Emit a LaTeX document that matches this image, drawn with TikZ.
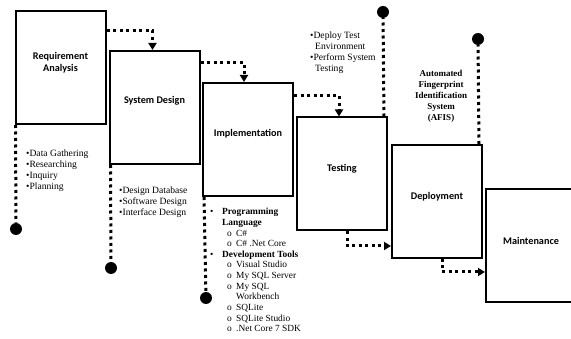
\documentclass[tikz,border=0pt]{standalone}
\usepackage{fontspec}
\setmainfont{Liberation Serif}
\newfontfamily\boxfont{Carlito}
\usetikzlibrary{arrows.meta,calc}
\begin{document}
\begin{tikzpicture}[x=1pt,y=-1pt,
  box/.style={draw=black,line width=2pt,minimum width=90pt,minimum height=113pt,inner sep=0pt},
  blabel/.style={font=\boxfont\bfseries\fontsize{10.2}{12}\selectfont,align=center,inner sep=0pt},
  dotline/.style={line width=3pt,dash pattern=on 3pt off 3.5pt},
  flow/.style={dotline,-{Triangle[width=8pt,length=7pt]}},
  dot/.style={circle,fill=black,minimum size=12pt,inner sep=0pt},
  lst/.style={font=\fontsize{9.6}{11}\selectfont,align=left,inner sep=0pt,anchor=north west},
]
\useasboundingbox (0,0) rectangle (571,339);
\clip (0,0) rectangle (571,339);
% boxes
\node[box] (ra) at (60.5,67.5) {};
\node[box] (sd) at (154.5,107.5) {};
\node[box] (im) at (248,139.5) {};
\node[box] (te) at (342,174) {};
\node[box] (dp) at (437,201.5) {};
\node[box] (mt) at (531,245.5) {};
% labels
\node[blabel] (ral) at (60.5,63) {Requirement\\Analysis};
\node[blabel] (sdl) at (154.5,101) {System Design};
\node[blabel] (iml) at (248,134) {Implementation};
\node[blabel] (tel) at (342,169) {Testing};
\node[blabel] (dpl) at (437,197) {Deployment};
\node[blabel] (mtl) at (531,241) {Maintenance};
% flow arrows
\draw[flow] ($(ra.north east)+(0,21)$) -| ($(sd.north west)+(44,0)$);
\draw[flow] ($(sd.north east)+(0,13)$) -| ($(im.north west)+(42,0)$);
\draw[flow] ($(im.north east)+(0,14)$) -| ($(te.north west)+(43,0)$);
\draw[flow] ($(te.south west)+(51,0)$) |- ($(dp.south west)+(0,-13)$);
\draw[flow] ($(dp.south west)+(51,0)$) |- ($(mt.north west)+(0,84)$);
% dotted stems with dots
\node[dot] (c1) at (16,229) {};
\node[dot] (c2) at (111,268) {};
\node[dot] (c3) at (206,298) {};
\node[dot] (c4) at (383,12) {};
\node[dot] (c5) at (478,39) {};
\draw[dotline] ($(ra.south west)+(1,0)$) -- (c1);
\draw[dotline] ($(sd.south west)+(2,0)$) -- (c2);
\draw[dotline] ($(im.south west)+(2,0)$) -- (c3);
\draw[dotline] ($(te.north east)+(-4,0)$) -- (c4);
\draw[dotline] ($(dp.north east)+(-4,0)$) -- (c5);
% lists
\node[lst] (l1) at (26,150) {•Data Gathering\\•Researching\\•Inquiry\\•Planning};
\node[lst] (l2) at (119,187) {•Design Database\\•Software Design\\•Interface Design};
\node[lst,font=\fontsize{9.4}{10.64}\selectfont] (l3) at (210,208) {%
\makebox[12pt][l]{•}\textbf{Programming}\\
\hspace*{12pt}\textbf{Language}\\
\hspace*{17pt}\makebox[9pt][l]{o}C\#\\
\hspace*{17pt}\makebox[9pt][l]{o}C\# .Net Core\\
\makebox[12pt][l]{•}\textbf{Development Tools}\\
\hspace*{17pt}\makebox[9pt][l]{o}Visual Studio\\
\hspace*{17pt}\makebox[9pt][l]{o}My SQL Server\\
\hspace*{17pt}\makebox[9pt][l]{o}My SQL\\
\hspace*{26pt}Workbench\\
\hspace*{17pt}\makebox[9pt][l]{o}SQLite\\
\hspace*{17pt}\makebox[9pt][l]{o}SQLite Studio\\
\hspace*{17pt}\makebox[9pt][l]{o}.Net Core 7 SDK};
\node[lst] (l4) at (310,32) {•Deploy Test\\\hspace*{5pt}Environment\\•Perform System\\\hspace*{5pt}Testing};
\node[font=\bfseries\fontsize{9}{11}\selectfont,align=center,inner sep=0pt] (afis) at (441,96) {Automated\\Fingerprint\\Identification\\System\\(AFIS)};
\end{tikzpicture}
\end{document}
